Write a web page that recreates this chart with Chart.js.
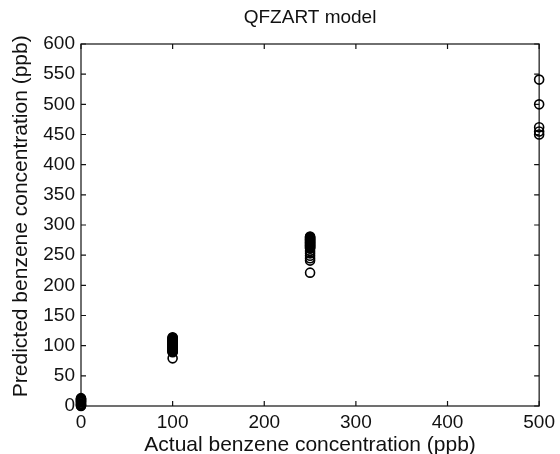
<!DOCTYPE html>
<html>
<head>
<meta charset="utf-8">
<script src="https://cdn.jsdelivr.net/npm/chart.js@4.4.1/dist/chart.umd.min.js"></script>
<style>
  html, body { margin: 0; padding: 0; background: #fff; }
</style>
</head>
<body>
<canvas id="myChart" width="560" height="454"></canvas>
<script>
// actual concentrations (ppb) and the predicted values read at each one
const actualLevels = [0, 100, 250, 500];
const predictedAt0 = [13, 12, 11, 10, 9, 8, 7, 6, 4, 3, 2, 1, 0];
const predictedAt100 = [114, 113, 112, 111, 110, 109, 108, 107, 106, 105, 104, 103, 102, 101, 100, 99, 98, 97, 96, 95, 94, 93, 92, 91, 90, 89, 79];
const predictedAt250 = [281, 280, 279, 278, 277, 276, 275, 274, 273, 272, 271, 270, 269, 268, 267, 266, 265, 264, 263, 262, 261, 257, 253, 249, 245, 241, 221];
const predictedAt500 = [541, 500, 462, 455, 450];

const xTicks = [0, 100, 200, 300, 400, 500];
const yTicks = [0, 50, 100, 150, 200, 250, 300, 350, 400, 450, 500, 550, 600];

const predictedLists = [predictedAt0, predictedAt100, predictedAt250, predictedAt500];
const points = [];
for (let i = 0; i < actualLevels.length; i++) {
  for (let j = 0; j < predictedLists[i].length; j++) {
    points.push({ x: actualLevels[i], y: predictedLists[i][j] });
  }
}

const fontFamily = "'Liberation Sans', Arial, sans-serif";
const tickFont = { family: fontFamily, size: 19 };
const labelFont = { family: fontFamily, size: 21, weight: "normal" };

// matlab style box with ticks pointing inside
const boxPlugin = {
  id: "box",
  beforeDatasetsDraw(chart) {
    const { ctx, chartArea, scales } = chart;
    const { left, right, top, bottom } = chartArea;
    const len = 5;
    ctx.save();
    ctx.strokeStyle = "#111";
    ctx.lineWidth = 1.2;
    ctx.strokeRect(left, top, right - left, bottom - top);
    ctx.beginPath();
    xTicks.forEach((v) => {
      const px = scales.x.getPixelForValue(v);
      ctx.moveTo(px, bottom);
      ctx.lineTo(px, bottom - len);
      ctx.moveTo(px, top);
      ctx.lineTo(px, top + len);
    });
    yTicks.forEach((v) => {
      const py = scales.y.getPixelForValue(v);
      ctx.moveTo(left, py);
      ctx.lineTo(left + len, py);
      ctx.moveTo(right, py);
      ctx.lineTo(right - len, py);
    });
    ctx.stroke();
    ctx.restore();
  },
};

const ctx = document.getElementById("myChart").getContext("2d");
const myChart = new Chart(ctx, {
  type: "scatter",
  data: {
    datasets: [
      {
        data: points,
        pointStyle: "circle",
        pointRadius: 4.5,
        borderWidth: 1.6,
        borderColor: "#000",
        backgroundColor: "rgba(0,0,0,0)",
        clip: false,
      },
    ],
  },
  options: {
    responsive: false,
    animation: false,
    layout: { padding: { left: 0, right: 19, top: 0, bottom: 0 } },
    plugins: {
      legend: { display: false },
      tooltip: { enabled: false },
      title: { display: false },
    },
    scales: {
      x: {
        type: "linear",
        min: 0,
        max: 500,
        afterBuildTicks: (scale) => {
          scale.ticks = xTicks.map((v) => ({ value: v }));
        },
        afterFit: (scale) => {
          scale.height = 48;
        },
        grid: { display: false, drawTicks: false },
        border: { display: false },
        ticks: { color: "#111", font: tickFont, padding: 5 },
        title: {
          display: true,
          text: "Actual benzene concentration (ppb)",
          color: "#111",
          font: { ...labelFont, lineHeight: 1 },
          padding: { top: 0, bottom: -2 },
        },
      },
      // top axis only carries the plot title, centred over the plot box
      xTop: {
        type: "linear",
        position: "top",
        min: 0,
        max: 500,
        afterFit: (scale) => {
          scale.height = 44;
        },
        grid: { display: false, drawTicks: false },
        border: { display: false },
        ticks: { display: false },
        title: {
          display: true,
          text: "QFZART model",
          color: "#111",
          font: { family: fontFamily, size: 19, weight: "normal" },
          padding: { top: 6, bottom: 0 },
        },
      },
      y: {
        type: "linear",
        min: 0,
        max: 600,
        afterBuildTicks: (scale) => {
          scale.ticks = yTicks.map((v) => ({ value: v }));
        },
        afterFit: (scale) => {
          scale.width = 81;
        },
        grid: { display: false, drawTicks: false },
        border: { display: false },
        ticks: { color: "#111", font: tickFont, padding: 6 },
        title: {
          display: true,
          text: "\u00a0\u00a0\u00a0Predicted benzene concentration (ppb)",
          color: "#111",
          font: labelFont,
          padding: { top: 9, bottom: 0 },
        },
      },
    },
  },
  plugins: [boxPlugin],
});
</script>
</body>
</html>
